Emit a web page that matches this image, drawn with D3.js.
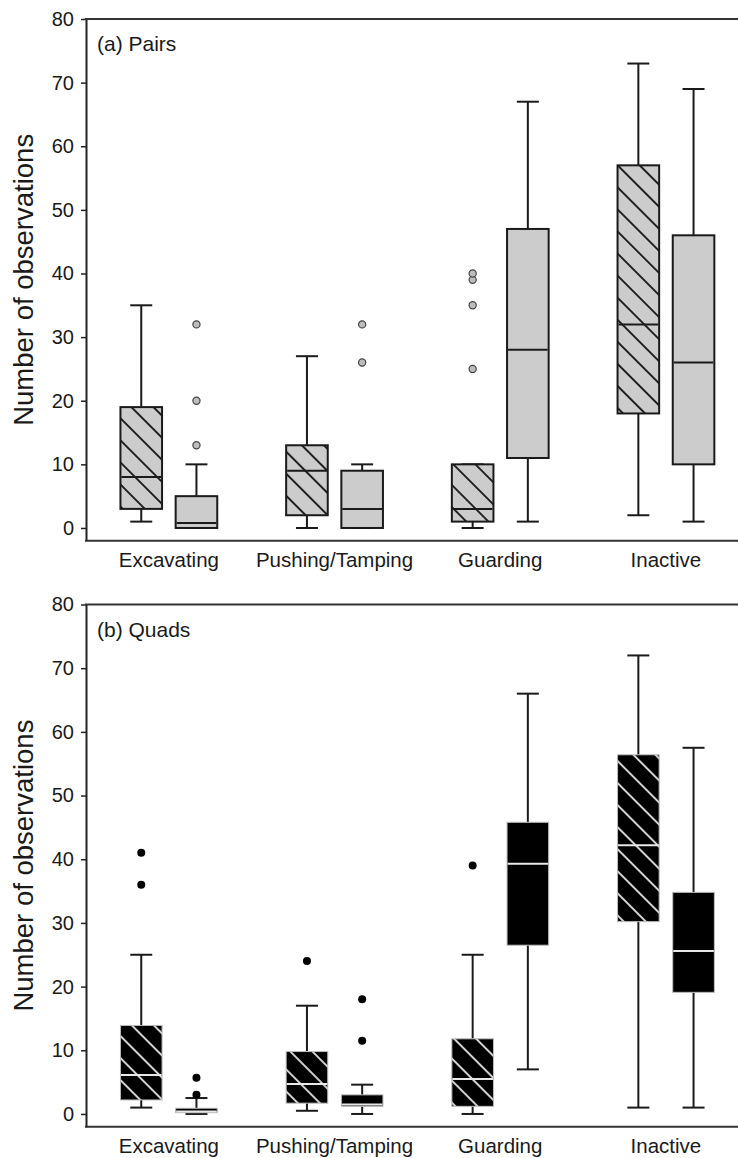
<!DOCTYPE html>
<html>
<head>
<meta charset="utf-8">
<script src="https://cdn.jsdelivr.net/npm/d3@7"></script>
<style>
  html, body { margin: 0; padding: 0; background: #fff; }
  svg { display: block; }
  text { font-family: Arial, "Liberation Sans", Helvetica, sans-serif; fill: #1a1a1a; }
</style>
</head>
<body>
<svg id="chart" width="738" height="1158"></svg>
<script>
// ---------- data ----------
const categories = ["Excavating", "Pushing/Tamping", "Guarding", "Inactive"];
const yTicks = [0, 10, 20, 30, 40, 50, 60, 70, 80];
const panelLabels = ["(a) Pairs", "(b) Quads"];
const yTitle = "Number of observations";

// five-number summaries: [lower whisker, Q1, median, Q3, upper whisker]
const pairsHatched = [[1, 3, 8, 19, 35], [0, 2, 9, 13, 27], [0, 1, 3, 10, 10], [2, 18, 32, 57, 73]];
const pairsHatchedOut = [[], [], [25, 35, 39, 40], []];
const pairsPlain = [[0, 0, 0.8, 5, 10], [0, 0, 3, 9, 10], [1, 11, 28, 47, 67], [1, 10, 26, 46, 69]];
const pairsPlainOut = [[13, 20, 32], [26, 32], [], []];

const quadsHatched = [[1, 2.2, 6.1, 13.9, 25], [0.5, 1.7, 4.7, 9.8, 17], [0, 1.2, 5.5, 11.8, 25], [1, 30.2, 42.2, 56.4, 72]];
const quadsHatchedOut = [[36, 41], [24], [39], []];
const quadsPlain = [[0, 0.2, 0.4, 0.9, 2.5], [0, 1.2, 1.5, 3.0, 4.6], [7, 26.5, 39.3, 45.8, 66], [1, 19.1, 25.6, 34.8, 57.5]];
const quadsPlainOut = [[3, 5.7], [11.5, 18], [], []];

const seriesKeys = ["hatched", "plain"];

// ---------- layout ----------
const svg = d3.select("#chart");
const W = 738;
const left = 86, rightEdge = 748.8;
const panels = [
  { top: 19, bottom: 540.7, label: panelLabels[0], hatched: pairsHatched, hatchedOut: pairsHatchedOut,
    plain: pairsPlain, plainOut: pairsPlainOut, dark: false },
  { top: 604.5, bottom: 1126.7, label: panelLabels[1], hatched: quadsHatched, hatchedOut: quadsHatchedOut,
    plain: quadsPlain, plainOut: quadsPlainOut, dark: true }
];

const x = d3.scaleBand().domain(categories).range([left, rightEdge]).padding(0);
const xs = d3.scalePoint().domain(seriesKeys).range([-27.6, 27.6]);
const boxW = 41.6, capW = 22;

// patterns
const defs = svg.append("defs");
function hatch(id, bg, fg, sw) {
  const p = defs.append("pattern").attr("id", id).attr("patternUnits", "userSpaceOnUse")
    .attr("width", 15.6).attr("height", 15.6).attr("patternTransform", "rotate(-45)");
  p.append("rect").attr("width", 15.6).attr("height", 15.6).attr("fill", bg);
  p.append("line").attr("x1", 7.8).attr("x2", 7.8).attr("y1", -1).attr("y2", 17)
    .attr("stroke", fg).attr("stroke-width", sw);
}
hatch("hatchLight", "#cccccc", "#111", 1.8);
hatch("hatchDark", "#000000", "#ffffff", 1.6);

panels.forEach(P => {
  const y = d3.scaleLinear().domain([-2, 80]).range([P.bottom, P.top]);
  const g = svg.append("g");

  // y axis
  const ax = g.append("g").attr("transform", `translate(${left},0)`)
    .call(d3.axisLeft(y).tickValues(yTicks).tickSize(5).tickSizeOuter(0).tickPadding(7));
  ax.select(".domain").attr("stroke", "#222").attr("stroke-width", 2);
  ax.selectAll(".tick line").attr("stroke", "#222").attr("stroke-width", 1.5);
  ax.selectAll(".tick text").style("font-size", "20px").style("font-family", "Arial, 'Liberation Sans', sans-serif").attr("fill", "#1a1a1a");

  // frame: top and bottom lines
  g.append("line").attr("x1", left - 1).attr("x2", W).attr("y1", y(80)).attr("y2", y(80))
    .attr("stroke", "#333").attr("stroke-width", 2);
  g.append("line").attr("x1", left - 1).attr("x2", W).attr("y1", y(-2)).attr("y2", y(-2))
    .attr("stroke", "#333").attr("stroke-width", 2);

  // category labels
  g.selectAll(".cat").data(categories).join("text")
    .attr("x", d => x(d) + x.bandwidth() / 2)
    .attr("y", y(-2) + 26.5)
    .attr("text-anchor", "middle")
    .style("font-size", "20.5px")
    .text(d => d);

  // panel label
  g.append("text").attr("x", 97).attr("y", P.top + 32).style("font-size", "21px").text(P.label);

  // y title
  g.append("text")
    .attr("transform", `translate(33,${(P.top + P.bottom) / 2}) rotate(-90)`)
    .attr("text-anchor", "middle")
    .style("font-size", "27.5px")
    .text(yTitle);

  // boxes
  const lineCol = "#1a1a1a";
  seriesKeys.forEach(key => {
    const stats = P[key];
    const outs = P[key + "Out"];
    categories.forEach((cat, i) => {
      const s = stats[i];
      const cx = x(cat) + x.bandwidth() / 2 + xs(key);
      const bg = g.append("g");
      // whiskers
      bg.append("line").attr("x1", cx).attr("x2", cx).attr("y1", y(s[0])).attr("y2", y(s[1]))
        .attr("stroke", lineCol).attr("stroke-width", 2);
      bg.append("line").attr("x1", cx).attr("x2", cx).attr("y1", y(s[3])).attr("y2", y(s[4]))
        .attr("stroke", lineCol).attr("stroke-width", 2);
      [s[0], s[4]].forEach(v => {
        bg.append("line").attr("x1", cx - capW / 2).attr("x2", cx + capW / 2).attr("y1", y(v)).attr("y2", y(v))
          .attr("stroke", lineCol).attr("stroke-width", 2);
      });
      // box
      let fill;
      if (P.dark) fill = key === "hatched" ? "url(#hatchDark)" : "#000";
      else fill = key === "hatched" ? "url(#hatchLight)" : "#cccccc";
      bg.append("rect").attr("x", cx - boxW / 2).attr("width", boxW)
        .attr("y", y(s[3])).attr("height", Math.max(0.5, y(s[1]) - y(s[3])))
        .attr("fill", fill)
        .attr("stroke", P.dark ? "#bbbbbb" : "#1a1a1a")
        .attr("stroke-width", P.dark ? 1 : 2);
      // median
      bg.append("line").attr("x1", cx - boxW / 2 + (P.dark ? 0.5 : 1)).attr("x2", cx + boxW / 2 - (P.dark ? 0.5 : 1))
        .attr("y1", y(s[2])).attr("y2", y(s[2]))
        .attr("stroke", P.dark ? "#e8e8e8" : "#1a1a1a").attr("stroke-width", 2);
      // outliers
      bg.selectAll("circle").data(outs[i]).join("circle")
        .attr("cx", cx).attr("cy", d => y(d))
        .attr("r", P.dark ? 4 : 3.6)
        .attr("fill", P.dark ? "#000" : "#bdbdbd")
        .attr("stroke", P.dark ? "none" : "#444")
        .attr("stroke-width", 1.2);
    });
  });
});
</script>
</body>
</html>
